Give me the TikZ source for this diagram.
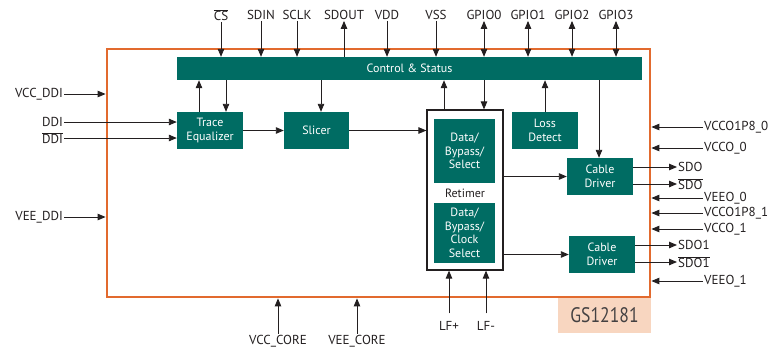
\documentclass[tikz,border=0pt]{standalone}
\usepackage{fontspec}
\setmainfont{PT Sans}
\usetikzlibrary{arrows.meta,positioning}
\definecolor{teal}{RGB}{0,108,99}
\definecolor{chiporange}{RGB}{226,106,46}
\definecolor{peach}{RGB}{248,214,192}
\definecolor{dark}{RGB}{35,31,32}
\tikzset{
  blk/.style={fill=teal, text=white, align=center, inner sep=0pt, font=\fontsize{12}{13.5}\selectfont},
  lbl/.style={text=dark, inner sep=1pt, font=\fontsize{13}{15}\selectfont},
  arr/.style={draw=dark, line width=0.9pt, -{Triangle[length=8pt,width=6.5pt]}},
  darr/.style={draw=dark, line width=0.9pt, {Triangle[length=8pt,width=6.5pt]}-{Triangle[length=8pt,width=6.5pt]}},
}
\begin{document}
\begin{tikzpicture}[x=1pt,y=-1pt]
\useasboundingbox (0,0) rectangle (781,349);
% GS box and chip
\node[fill=peach, minimum width=93pt, minimum height=36pt, inner sep=0pt, text=dark!85, font=\fontsize{21}{24}\selectfont] (gs) at (604.5,315) {\scalebox{0.84}[1]{GS12181}};
\node[draw=chiporange, line width=2.8pt, minimum width=543pt, minimum height=248pt, inner sep=0pt] (chip) at (378.5,173) {};
% blocks
\node[blk, minimum width=465pt, minimum height=23pt] (ctrl) at (409.5,68.5) {Control \& Status};
\node[blk, minimum width=66pt, minimum height=37pt] (trace) at (210,130.5) {Trace\\Equalizer};
\node[blk, minimum width=65pt, minimum height=37pt] (slicer) at (316.5,130.5) {Slicer};
\node[draw=dark, line width=1.2pt, minimum width=76pt, minimum height=160pt, inner sep=0pt] (ret) at (465,190) {};
\node[blk, minimum width=61pt, minimum height=64pt] (dbs1) at (464.5,151) {Data/\\Bypass/\\Select};
\node[lbl, font=\fontsize{12}{13.5}\selectfont] (retlbl) at (465,193) {Retimer};
\node[blk, minimum width=61pt, minimum height=60pt] (dbs2) at (464.5,233) {Data/\\Bypass/\\Clock\\Select};
\node[blk, minimum width=66pt, minimum height=37pt] (loss) at (545,130.5) {Loss\\Detect};
\node[blk, minimum width=66pt, minimum height=37pt] (cd1) at (600,176.5) {Cable\\Driver};
\node[blk, minimum width=66pt, minimum height=37pt] (cd2) at (602,254.5) {Cable\\Driver};
% top pins
\node[lbl] (cs) at (221,15) {\(\overline{\hbox{CS}}\)};
\node[lbl] (sdin) at (261,15) {SDIN};
\node[lbl] (sclk) at (297,15) {SCLK};
\node[lbl] (sdout) at (344,15) {SDOUT};
\node[lbl] (vdd) at (387,15) {VDD};
\node[lbl] (vss) at (436,15) {VSS};
\node[lbl] (g0) at (484,15) {GPIO0};
\node[lbl] (g1) at (528,15) {GPIO1};
\node[lbl] (g2) at (572,15) {GPIO2};
\node[lbl] (g3) at (616,15) {GPIO3};
\foreach \p in {cs,sdin,sclk,vdd,vss} \draw[arr] (\p.south) -- (\p.south |- ctrl.north);
\draw[arr] (sdout.south |- ctrl.north) -- (sdout.south);
\foreach \p in {g0,g1,g2,g3} \draw[darr] (\p.south) -- (\p.south |- ctrl.north);
% left pins
\node[lbl, anchor=east] (vccddi) at (64,94) {VCC\_DDI};
\node[lbl, anchor=east] (ddi) at (64,122) {DDI};
\node[lbl, anchor=east] (ddin) at (64,138) {\(\overline{\hbox{DDI}}\)};
\node[lbl, anchor=east] (veeddi) at (64,217) {VEE\_DDI};
\draw[arr] (vccddi.east) -- (chip.west |- vccddi.east);
\draw[arr] (veeddi.east) -- (chip.west |- veeddi.east);
\draw[arr] (ddi.east) -- (trace.west |- ddi.east);
\draw[arr] (ddin.east) -- (trace.west |- ddin.east);
% right pins
\node[lbl, anchor=west] (v18a) at (703,127) {VCCO1P8\_0};
\node[lbl, anchor=west] (vccoa) at (703,148) {VCCO\_0};
\node[lbl, anchor=west] (veeoa) at (703,198) {VEEO\_0};
\node[lbl, anchor=west] (v18b) at (703,213) {VCCO1P8\_1};
\node[lbl, anchor=west] (vccob) at (703,229) {VCCO\_1};
\node[lbl, anchor=west] (veeob) at (703,281) {VEEO\_1};
\foreach \p in {v18a,vccoa,veeoa,v18b,vccob,veeob} \draw[arr] (\p.west) -- (chip.east |- \p.west);
% outputs
\node[lbl, anchor=west] (sdo) at (677,167) {SDO};
\node[lbl, anchor=west] (sdon) at (677,184) {\(\overline{\hbox{SDO}}\)};
\node[lbl, anchor=west] (sdo1) at (677,245) {SDO1};
\node[lbl, anchor=west] (sdo1n) at (677,262) {\(\overline{\hbox{SDO1}}\)};
\foreach \p in {sdo,sdon} \draw[arr] (cd1.east |- \p.west) -- (\p.west);
\foreach \p in {sdo1,sdo1n} \draw[arr] (cd2.east |- \p.west) -- (\p.west);
% bottom pins
\node[lbl] (vcccore) at (278,341) {VCC\_CORE};
\node[lbl] (veecore) at (357,341) {VEE\_CORE};
\foreach \p in {vcccore,veecore} \draw[arr] (\p.north) -- (\p.north |- chip.south);
\node[lbl] (lfp) at (449,326) {LF+};
\node[lbl] (lfm) at (486,326) {LF-};
\foreach \p in {lfp,lfm} \draw[arr] ([yshift=7pt]\p.north) -- (\p.north |- ret.south);
% internal
\draw[arr] ([xshift=-11pt]trace.north) -- ([xshift=-11pt]trace.north |- ctrl.south);
\draw[arr] ([xshift=16pt]trace.north |- ctrl.south) -- ([xshift=16pt]trace.north);
\draw[arr] ([xshift=4.5pt]slicer.north |- ctrl.south) -- ([xshift=4.5pt]slicer.north);
\draw[arr] (trace.east) -- (slicer.west);
\draw[arr] (slicer.east) -- (ret.west |- slicer.east);
\draw[arr] ([xshift=-21pt]ret.north) -- ([xshift=-21pt]ret.north |- ctrl.south);
\draw[arr] ([xshift=19pt]ret.north |- ctrl.south) -- ([xshift=19pt]ret.north);
\draw[arr] (loss.north) -- (loss.north |- ctrl.south);
\draw[arr] ([xshift=-1pt]cd1.north |- ctrl.south) -- ([xshift=-1pt]cd1.north);
\draw[arr] (ret.east |- cd1.west) -- (cd1.west);
\draw[arr] (ret.east |- cd2.west) -- (cd2.west);
\end{tikzpicture}
\end{document}
